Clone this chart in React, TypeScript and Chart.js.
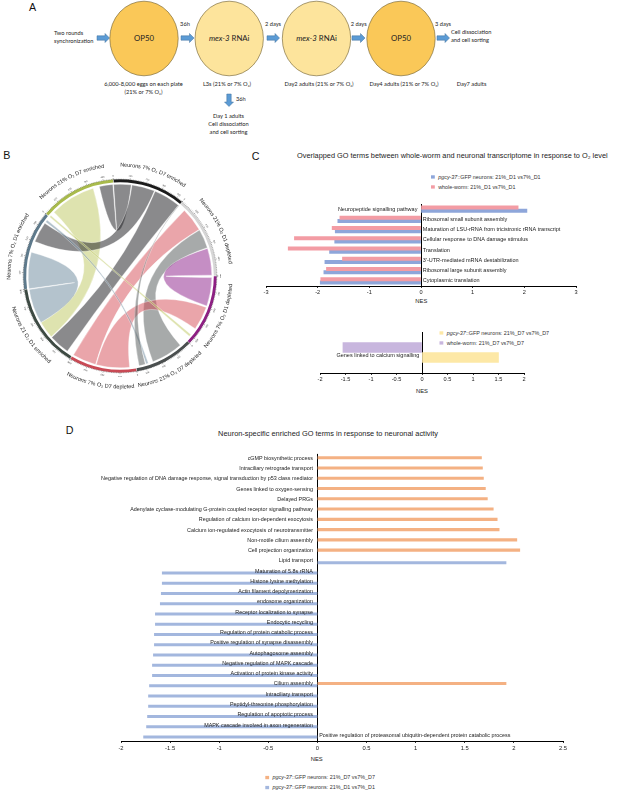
import React, { useEffect, useRef } from "react";
import { Chart, registerables } from "chart.js";

Chart.register(...registerables);

const FONT = "'Liberation Sans', Arial, Helvetica, sans-serif";
const A_FONT = "Lato, 'Open Sans', 'Liberation Sans', sans-serif";
Chart.defaults.font.family = FONT;
Chart.defaults.color = "#222";

// ---------------- Panel B (chord) data ----------------
const chordSectors = [
  "Neurons 7% O\u2082 D7 enriched",
  "Neurons 21% O\u2082 D1 depleted",
  "Neurons 7% O\u2082 D1 depleted",
  "Neurons 21% O\u2082 D7 depleted",
  "Neurons 7% O\u2082 D7 depleted",
  "Neurons 21 O\u2082 D1 enriched",
  "Neurons 7% O\u2082 D1 enriched",
  "Neurons 21% O\u2082 D7 enriched",
];
const chordSizes = [440, 500, 440, 360, 410, 510, 480, 460];
// [sector, from, to, sector, from, to]
const chordLinks = [
  [7, 40, 330, 5, 175, 285],
  [6, 0, 230, 5, 285, 505],
  [0, 0, 110, 7, 370, 455],
  [0, 115, 260, 6, 300, 430],
  [0, 265, 435, 5, 40, 170],
  [4, 255, 405, 1, 45, 195],
  [3, 50, 250, 1, 200, 320],
  [2, 10, 190, 1, 325, 495],
  [4, 40, 250, 2, 200, 350],
  [7, 0, 12, 2, 395, 410],
  [6, 440, 455, 3, 280, 295],
  [3, 300, 340, 0, 436, 440],
];

// ---------------- Panel C data ----------------
const cTopTerms = [
  "Neuropeptide signalling pathway",
  "Ribosomal small subunit assembly",
  "Maturation of LSU-rRNA from tricistronic rRNA transcript",
  "Cellular response to DNA damage stimulus",
  "Translation",
  "3'-UTR-mediated mRNA destabilization",
  "Ribosomal large subunit assembly",
  "Cytoplasmic translation",
];
const cTopWholeWormD1 = [1.88, -1.57, -1.72, -2.45, -2.57, -1.52, -1.83, -1.94];
const cTopNeuronsD1 = [2.05, -1.61, -1.66, -1.67, -1.77, -1.86, -1.88, -1.95];
const cTopTicks = [-3, 3, 1];

const cBotTerms = ["Genes linked to calcium signalling"];
const cBotWholeWormD7 = [-1.55];
const cBotNeuronsD7 = [1.5];
const cBotTicks = [-2, 2, 0.5];

// ---------------- Panel D data ----------------
const dTerms = [
  "cGMP biosynthetic process",
  "Intraciliary retrograde transport",
  "Negative regulation of DNA damage response, signal transduction by p53 class mediator",
  "Genes linked to oxygen-sensing",
  "Delayed PRGs",
  "Adenylate cyclase-modulating G-protein coupled receptor signalling pathway",
  "Regulation of calcium ion-dependent exocytosis",
  "Calcium ion-regulated exocytosis of neurotransmitter",
  "Non-motile cilium assembly",
  "Cell projection organization",
  "Lipid transport",
  "Maturation of 5.8s rRNA",
  "Histone lysine methylation",
  "Actin filament depolymerization",
  "endosome organization",
  "Receptor localization to synapse",
  "Endocytic recycling",
  "Regulation of protein catabolic process",
  "Positive regulation of synapse disassembly",
  "Autophagosome assembly",
  "Negative regulation of MAPK cascade",
  "Activation of protein kinase activity",
  "Cilium assembly",
  "Intraciliary transport",
  "Peptidyl-threonine phosphorylation",
  "Regulation of apoptotic process",
  "MAPK cascade involved in axon regeneration",
  "Positive regulation of proteasomal ubiquitin-dependent protein catabolic process",
];
const dNeuronsD7 = [
  1.67, 1.68, 1.69, 1.71, 1.73, 1.79, 1.83, 1.85, 2.03, 2.06,
  null, null, null, null, null, null, null, null, null, null, null, null,
  1.92, null, null, null, null, null,
];
const dNeuronsD1 = [
  null, null, null, null, null, null, null, null, null, null,
  1.92, -1.58, -1.58, -1.59, -1.6, -1.65, -1.65, -1.66, -1.66, -1.67, -1.68, -1.68,
  -1.71, -1.72, -1.72, -1.73, -1.74, -1.77,
];
const dTicks = [-2, 2.5, 0.5];

const legendCTop = ["::GFP neurons: 21%_D1 vs7%_D1", "whole-worm: 21%_D1 vs7%_D1"];
const legendCBot = ["::GFP neurons: 21%_D7 vs7%_D7", "whole-worm: 21%_D7 vs7%_D7"];
const legendD = ["::GFP neurons: 21%_D7 vs7%_D7", "::GFP neurons: 21%_D1 vs7%_D1"];

// ---------------- colours ----------------
const C_BLUE = "#8ea6da";
const C_PINK = "#f39ca4";
const C_YELLOW = "#fde8a6";
const C_PURPLE = "#c8b6de";
const D_ORANGE = "#f4b183";
const D_BLUE = "#a3b7de";
const sectorColors = ["#1b1b1b", "#d6d6d6", "#8e1f83", "#4a4f4f", "#c94a55", "#3d4a43", "#5e7a8c", "#a9bb4c"];
const ribbonColors = [
  "rgba(30,30,35,0.52)",
  "rgba(200,200,200,0.5)",
  "rgba(140,30,138,0.5)",
  "rgba(80,85,85,0.5)",
  "rgba(213,75,85,0.5)",
  "rgba(60,75,68,0.5)",
  "rgba(105,135,155,0.5)",
  "rgba(190,200,95,0.5)",
];

// ---------------- helpers ----------------
function rowLabelPlugin(terms: string[], sides: string[], size: number, gapL: number, gapR: number, dy: number) {
  return {
    id: "rowLabels",
    afterDatasetsDraw(chart: any) {
      const { ctx, scales } = chart;
      const x0 = scales.x.getPixelForValue(0);
      ctx.save();
      ctx.font = `${size}px ${FONT}`;
      ctx.fillStyle = "#222";
      ctx.textBaseline = "middle";
      terms.forEach((t, i) => {
        const yy = scales.y.getPixelForValue(i) + dy;
        if (sides[i] === "left") {
          ctx.textAlign = "right";
          ctx.fillText(t, x0 - gapL, yy);
        } else {
          ctx.textAlign = "left";
          ctx.fillText(t, x0 + gapR, yy);
        }
      });
      ctx.restore();
    },
  };
}

function barConfig(opts: {
  terms: string[];
  datasets: any[];
  ticks: number[];
  padding: any;
  tickSize: number;
  tickPad: number;
  axisH: number;
  plugin: any;
}) {
  return {
    type: "bar",
    data: { labels: opts.terms, datasets: opts.datasets },
    options: {
      indexAxis: "y",
      animation: false,
      responsive: false,
      maintainAspectRatio: false,
      layout: { padding: opts.padding },
      plugins: { legend: { display: false }, tooltip: { enabled: false }, title: { display: false } },
      scales: {
        x: {
          type: "linear",
          min: opts.ticks[0],
          max: opts.ticks[1],
          ticks: {
            stepSize: opts.ticks[2],
            font: { size: opts.tickSize },
            color: "#222",
            padding: opts.tickPad,
            callback: (v: any) => String(Math.round(v * 100) / 100),
          },
          grid: {
            color: (c: any) => (c.tick && c.tick.value === 0 ? "#000" : "rgba(0,0,0,0)"),
            lineWidth: 1,
            tickColor: "#000",
            tickLength: 2,
            tickWidth: 0.8,
          },
          border: { display: true, color: "#000", width: 1 },
          afterFit: (s: any) => {
            s.height = opts.axisH;
          },
        },
        y: { display: false, grid: { display: false } },
      },
    },
    plugins: [opts.plugin],
  };
}

function arcText(ctx: any, text: string, cx: number, cy: number, r: number, mid: number, bottom: boolean) {
  const chars = Array.from(text);
  const widths = chars.map((ch) => ctx.measureText(ch).width);
  const total = widths.reduce((a, b) => a + b, 0);
  const span = total / r;
  let acc = 0;
  chars.forEach((ch, i) => {
    const w = widths[i];
    const a = bottom ? mid + span / 2 - (acc + w / 2) / r : mid - span / 2 + (acc + w / 2) / r;
    ctx.save();
    ctx.translate(cx + r * Math.cos(a), cy + r * Math.sin(a));
    ctx.rotate(bottom ? a - Math.PI / 2 : a + Math.PI / 2);
    ctx.fillText(ch, 0, 0);
    ctx.restore();
    acc += w;
  });
}

const chordPlugin = {
  id: "chord",
  beforeDatasetsDraw(chart: any) {
    const arcs = chart.getDatasetMeta(0).data;
    const ctx = chart.ctx;
    const cx = arcs[0].x;
    const cy = arcs[0].y;
    const r = arcs[0].innerRadius - 1.3;
    const ang = (s: number, off: number) => {
      const a = arcs[s];
      return a.startAngle + (off / chordSizes[s]) * (a.endAngle - a.startAngle);
    };
    ctx.save();
    chordLinks.forEach(([s1, a1, b1, s2, a2, b2]) => {
      const t1 = ang(s1, a1), t2 = ang(s1, b1), u1 = ang(s2, a2), u2 = ang(s2, b2);
      ctx.beginPath();
      ctx.moveTo(cx + r * Math.cos(t1), cy + r * Math.sin(t1));
      ctx.arc(cx, cy, r, t1, t2);
      ctx.quadraticCurveTo(cx, cy, cx + r * Math.cos(u1), cy + r * Math.sin(u1));
      ctx.arc(cx, cy, r, u1, u2);
      ctx.quadraticCurveTo(cx, cy, cx + r * Math.cos(t1), cy + r * Math.sin(t1));
      ctx.closePath();
      ctx.fillStyle = ribbonColors[s1];
      ctx.fill();
      ctx.strokeStyle = "rgba(255,255,255,0.7)";
      ctx.lineWidth = 0.5;
      ctx.stroke();
    });
    ctx.restore();
  },
  afterDatasetsDraw(chart: any) {
    const arcs = chart.getDatasetMeta(0).data;
    const ctx = chart.ctx;
    const cx = arcs[0].x;
    const cy = arcs[0].y;
    const ro = arcs[0].outerRadius;
    ctx.save();
    ctx.strokeStyle = "#333";
    ctx.fillStyle = "#444";
    ctx.lineWidth = 0.4;
    arcs.forEach((a: any, s: number) => {
      for (let off = 0; off <= chordSizes[s]; off += 10) {
        const t = a.startAngle + (off / chordSizes[s]) * (a.endAngle - a.startAngle);
        const major = off % 100 === 0;
        const r2 = ro + (major ? 2.2 : 1.3);
        ctx.beginPath();
        ctx.moveTo(cx + (ro + 0.3) * Math.cos(t), cy + (ro + 0.3) * Math.sin(t));
        ctx.lineTo(cx + r2 * Math.cos(t), cy + r2 * Math.sin(t));
        ctx.stroke();
        if (major) {
          ctx.save();
          ctx.font = `2.3px ${FONT}`;
          ctx.textAlign = "center";
          ctx.textBaseline = "middle";
          ctx.translate(cx + (ro + 4.2) * Math.cos(t), cy + (ro + 4.2) * Math.sin(t));
          ctx.rotate(t + Math.PI / 2);
          ctx.fillText(String(off), 0, 0);
          ctx.restore();
        }
      }
    });
    ctx.font = `5.5px ${FONT}`;
    ctx.fillStyle = "#222";
    ctx.textAlign = "center";
    ctx.textBaseline = "middle";
    arcs.forEach((a: any, s: number) => {
      const mid = (a.startAngle + a.endAngle) / 2;
      const bottom = Math.sin(mid) > 0.05;
      arcText(ctx, chordSectors[s], cx, cy, ro + 15, mid, bottom);
    });
    ctx.restore();
  },
};

function chordConfig() {
  return {
    type: "doughnut",
    data: {
      labels: chordSectors,
      datasets: [{ data: chordSizes, backgroundColor: sectorColors, borderWidth: 0, spacing: 1.4 }],
    },
    options: {
      animation: false,
      responsive: false,
      maintainAspectRatio: false,
      rotation: -4,
      radius: 96,
      cutout: "97%",
      layout: { padding: 0 },
      plugins: { legend: { display: false }, tooltip: { enabled: false } },
    },
    plugins: [chordPlugin],
  };
}

function cTopConfig() {
  return barConfig({
    terms: cTopTerms,
    datasets: [
      { label: legendCBot[1], data: cTopWholeWormD1, backgroundColor: C_PINK, barThickness: 3.2, borderWidth: 0 },
      { label: legendCTop[0], data: cTopNeuronsD1, backgroundColor: C_BLUE, barThickness: 3.2, borderWidth: 0 },
    ],
    ticks: cTopTicks,
    padding: { left: 16, right: 41, top: 9, bottom: 0 },
    tickSize: 5.6,
    tickPad: 1,
    axisH: 12,
    plugin: rowLabelPlugin(cTopTerms, cTopTerms.map((_, i) => (i === 0 ? "left" : "right")), 5.5, 3.6, 1.8, 0),
  });
}

function cBotConfig() {
  return barConfig({
    terms: cBotTerms,
    datasets: [
      { label: legendCBot[1], data: cBotWholeWormD7, backgroundColor: C_PURPLE, barThickness: 10, borderWidth: 0 },
      { label: legendCBot[0], data: cBotNeuronsD7, backgroundColor: C_YELLOW, barThickness: 10, borderWidth: 0 },
    ],
    ticks: cBotTicks,
    padding: { left: 70, right: 93, top: 7, bottom: 0 },
    tickSize: 5.6,
    tickPad: 1.5,
    axisH: 12,
    plugin: rowLabelPlugin(cBotTerms, ["left"], 5.5, 2.7, 2, 3.2),
  });
}

function dConfig() {
  return barConfig({
    terms: dTerms,
    datasets: [
      { label: legendD[0], data: dNeuronsD7, backgroundColor: D_ORANGE, barThickness: 2.4, borderWidth: 0 },
      { label: legendD[1], data: dNeuronsD1, backgroundColor: D_BLUE, barThickness: 2.4, borderWidth: 0 },
    ],
    ticks: dTicks,
    padding: { left: 31, right: 54, top: 8.9, bottom: 0 },
    tickSize: 5.8,
    tickPad: 1.5,
    axisH: 12,
    plugin: rowLabelPlugin(dTerms, dTerms.map((_, i) => (i === dTerms.length - 1 ? "right" : "left")), 5.4, 4.5, 1.8, -0.6),
  });
}

function ChartBox({ left, top, width, height, make }: { left: number; top: number; width: number; height: number; make: () => any }) {
  const ref = useRef<HTMLCanvasElement>(null);
  useEffect(() => {
    const chart = new Chart(ref.current as HTMLCanvasElement, make());
    return () => chart.destroy();
  }, []);
  return (
    <canvas
      ref={ref}
      width={width}
      height={height}
      style={{ position: "absolute", left, top, width, height }}
    />
  );
}

function RightArrow({ x0, x1, y }: { x0: number; x1: number; y: number }) {
  const h = x1 - 4.5;
  const pts = `${x0},${y - 2.2} ${h},${y - 2.2} ${h},${y - 4.5} ${x1},${y} ${h},${y + 4.5} ${h},${y + 2.2} ${x0},${y + 2.2}`;
  return <polygon points={pts} fill="#5b9bd5" stroke="#41719c" strokeWidth={0.5} />;
}

function DownArrow({ x, y0, y1 }: { x: number; y0: number; y1: number }) {
  const h = y1 - 4.5;
  const pts = `${x - 2.2},${y0} ${x + 2.2},${y0} ${x + 2.2},${h} ${x + 4.5},${h} ${x},${y1} ${x - 4.5},${h} ${x - 2.2},${h}`;
  return <polygon points={pts} fill="#5b9bd5" stroke="#41719c" strokeWidth={0.5} />;
}

function Legend({ x, y, items, colors, italic }: { x: number; y: number; items: string[]; colors: string[]; italic: boolean[] }) {
  return (
    <g>
      {items.map((t, i) => (
        <g key={i}>
          <rect x={x} y={y + i * 10 - 3.3} width={3.8} height={3.3} fill={colors[i]} />
          <text x={x + 7.2} y={y + i * 10} fontSize={5.4} fontFamily={FONT} fill="#333">
            {italic[i] ? <tspan fontStyle="italic">pgcy-37</tspan> : null}
            {t}
          </text>
        </g>
      ))}
    </g>
  );
}

function PanelA() {
  const t = { fontFamily: A_FONT, fontSize: 5.7, fill: "#222" } as any;
  const circles = [
    { cx: 144, fill: "#fac858", label: "OP50", it: "" },
    { cx: 229.2, fill: "#fde49c", label: " RNAi", it: "mex-3" },
    { cx: 316.5, fill: "#fde49c", label: " RNAi", it: "mex-3" },
    { cx: 401, fill: "#fac858", label: "OP50", it: "" },
  ];
  return (
    <g>
      <text x={29} y={11} fontSize={10.7} fontFamily={FONT} fill="#111">A</text>
      <text x={54} y={35.3} {...t}>Two rounds</text>
      <text x={54} y={43.2} {...t}>synchronization</text>
      <RightArrow x0={97} x1={109.5} y={38} />
      <RightArrow x0={181} x1={194} y={38} />
      <RightArrow x0={267} x1={279.5} y={38} />
      <RightArrow x0={352} x1={365} y={38} />
      <RightArrow x0={437} x1={449.5} y={38} />
      {circles.map((c, i) => (
        <g key={i}>
          <ellipse cx={c.cx} cy={38.5} rx={34.2} ry={37.3} fill={c.fill} stroke="#6b5a2a" strokeWidth={0.6} />
          <text x={c.cx} y={41.2} textAnchor="middle" fontFamily={A_FONT} fontSize={7.8} fill="#222">
            {c.it ? <tspan fontStyle="italic">{c.it}</tspan> : null}
            {c.label}
          </text>
        </g>
      ))}
      <text x={185} y={26} textAnchor="middle" {...t}>36h</text>
      <text x={273} y={26} textAnchor="middle" {...t}>2 days</text>
      <text x={358.7} y={26} textAnchor="middle" {...t}>2 days</text>
      <text x={443} y={26} textAnchor="middle" {...t}>3 days</text>
      <text x={451} y={34.3} {...t}>Cell dissociation</text>
      <text x={451} y={42.3} {...t}>and cell sorting</text>
      <text x={143.5} y={86} textAnchor="middle" {...t}>6,000-8,000 eggs on each plate</text>
      <text x={143.5} y={93.8} textAnchor="middle" {...t}>(21% or 7% O{"\u2082"})</text>
      <text x={227} y={86} textAnchor="middle" {...t}>L3s (21% or 7% O{"\u2082"})</text>
      <text x={319} y={86} textAnchor="middle" {...t}>Day2 adults (21% or 7% O{"\u2082"})</text>
      <text x={404} y={86} textAnchor="middle" {...t}>Day4 adults (21% or 7% O{"\u2082"})</text>
      <text x={471.5} y={86} textAnchor="middle" {...t}>Day7 adults</text>
      <DownArrow x={229} y0={94} y1={106.5} />
      <text x={236} y={101.3} {...t}>36h</text>
      <text x={228.5} y={117.7} textAnchor="middle" {...t}>Day 1 adults</text>
      <text x={228.5} y={125.7} textAnchor="middle" {...t}>Cell dissociation</text>
      <text x={228.5} y={133.7} textAnchor="middle" {...t}>and cell sorting</text>
    </g>
  );
}

export default function App() {
  return (
    <div
      style={{
        position: "absolute",
        left: 0,
        top: 0,
        width: 617,
        height: 795,
        background: "#fff",
        overflow: "hidden",
      }}
    >
      <svg width={617} height={795} style={{ position: "absolute", left: 0, top: 0 }}>
        <PanelA />
        <text x={3.3} y={159.3} fontSize={10.7} fontFamily={FONT} fill="#111">B</text>
        <text x={251.7} y={160} fontSize={10.7} fontFamily={FONT} fill="#111">C</text>
        <text x={65.7} y={434} fontSize={10.7} fontFamily={FONT} fill="#111">D</text>
        <text x={297} y={157.8} fontSize={7.35} fontFamily={FONT} fill="#222">
          Overlapped GO terms between whole-worm and neuronal transcriptome in response to O{"\u2082"} level
        </text>
        <text x={328} y={435.6} fontSize={7.4} textAnchor="middle" fontFamily={FONT} fill="#222">
          Neuron-specific enriched GO terms in response to neuronal activity
        </text>
        <Legend x={431} y={178.6} items={legendCTop} colors={[C_BLUE, C_PINK]} italic={[true, false]} />
        <Legend x={439.5} y={334.6} items={legendCBot} colors={[C_YELLOW, C_PURPLE]} italic={[true, false]} />
        <Legend x={265.3} y={779.2} items={legendD} colors={[D_ORANGE, D_BLUE]} italic={[true, true]} />
        <text x={421.3} y={302.8} fontSize={5.8} textAnchor="middle" fontFamily={FONT} fill="#222">NES</text>
        <text x={422} y={393.2} fontSize={5.8} textAnchor="middle" fontFamily={FONT} fill="#222">NES</text>
        <text x={316.7} y={761.3} fontSize={5.8} textAnchor="middle" fontFamily={FONT} fill="#222">NES</text>
      </svg>
      <ChartBox left={0} top={150} width={240} height={252} make={chordConfig} />
      <ChartBox left={250} top={195} width={367} height={103} make={cTopConfig} />
      <ChartBox left={250} top={325} width={367} height={60} make={cBotConfig} />
      <ChartBox left={90} top={445} width={527} height={308} make={dConfig} />
    </div>
  );
}
